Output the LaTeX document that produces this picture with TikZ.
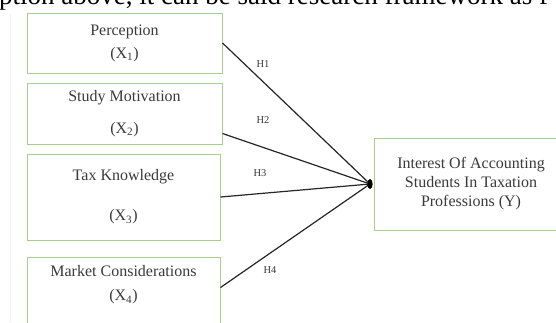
\documentclass[tikz,border=0pt]{standalone}
\usepackage{fontspec}
\setmainfont{Liberation Serif}
\usetikzlibrary{calc}
\definecolor{boxgreen}{HTML}{A9CF8E}
\definecolor{txt}{HTML}{3A3A3A}
\tikzset{
  varbox/.style={draw=boxgreen, line width=1pt, rectangle, minimum width=195pt, inner sep=0pt, text=txt, align=center, font=\fontsize{16}{19}\selectfont},
  link/.style={draw=black!85, line width=1.2pt},
  hyp/.style={text=txt, font=\fontsize{10.5}{12}\selectfont, inner sep=0pt},
}
\begin{document}
\begin{tikzpicture}[x=1pt,y=-1pt]
\useasboundingbox (0,0) rectangle (556,322);
\clip (0,0) rectangle (556,322);
\fill[white] (0,0) rectangle (556,322);
% cut-off running text at the top
\node[anchor=base west, inner sep=0pt, font=\fontsize{27}{30}\selectfont, text=black] (top) at (-1,4) {ption above, it can be said research framework as f};
% faint page edge
\draw[gray!12, line width=1pt] (10,14) -- (10,322);
% boxes
\node[varbox, minimum height=60pt] (b1) at (124.5,43) {Perception\\[4pt](X\textsubscript{1})};
\node[varbox, minimum height=61pt] (b2) at (124.5,113.5) {Study Motivation\\[13pt](X\textsubscript{2})};
\node[varbox, minimum width=193pt, minimum height=86pt] (b3) at (123.5,197) {Tax Knowledge\\[21pt](X\textsubscript{3})};
\node[varbox, minimum width=193pt, minimum height=80pt] (b4) at (123.5,297) {};
\node[text=txt, align=center, font=\fontsize{16}{19}\selectfont, inner sep=0pt] (t4) at (123.5,285) {Market Considerations\\[5pt](X\textsubscript{4})};
\node[varbox, minimum width=194pt, minimum height=92pt] (y) at (471,184) {Interest Of Accounting\\Students In Taxation\\Professions (Y)};
% junction
\coordinate (j) at (370,184);
\draw[link] (b1.east) -- (j);
\draw[link] ($(b2.south east)+(0,-11)$) -- (j);
\draw[link] (b3.east) -- (j);
\draw[link] ($(b4.north east)+(0,31)$) -- (j);
\fill[black] (j) ellipse [x radius=2.6pt, y radius=5pt];
% labels
\node[hyp] (h1) at (263,64) {H1};
\node[hyp] (h2) at (263,120) {H2};
\node[hyp] (h3) at (260,173) {H3};
\node[hyp] (h4) at (270,270) {H4};
\end{tikzpicture}
\end{document}
